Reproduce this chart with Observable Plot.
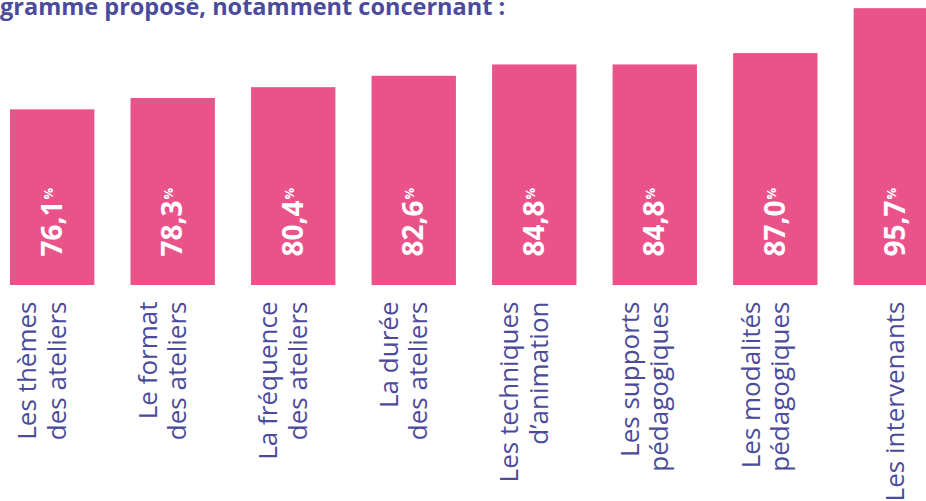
<!DOCTYPE html>
<html><head><meta charset="utf-8">
<script src="https://cdn.jsdelivr.net/npm/d3@7"></script>
<script src="https://cdn.jsdelivr.net/npm/@observablehq/plot@0.6"></script>
<style>
html,body{margin:0;padding:0;background:#fff;overflow:hidden;width:926px;height:501px;}
#wrap{position:relative;width:926px;height:501px;overflow:hidden;}
#title{position:absolute;left:0;top:-5px;font-family:"Open Sans";font-weight:700;font-size:23.5px;color:#4B4A9B;white-space:nowrap;line-height:1;z-index:1}
#chart{position:absolute;left:0;top:0;width:940px;}
#chart svg{max-width:none !important;}
</style></head><body>
<div id="wrap"><div id="title">gramme proposé, notamment concernant :</div><div id="chart"></div></div>
<script>
const categories = [
  "Les thèmes\ndes ateliers",
  "Le format\ndes ateliers",
  "La fréquence\ndes ateliers",
  "La durée\ndes ateliers",
  "Les techniques\nd’animation",
  "Les supports\npédagogiques",
  "Les modalités\npédagogiques",
  "Les intervenants"
];
const values = [76.1, 78.3, 80.4, 82.6, 84.8, 84.8, 87.0, 95.7];
const valueLabels = ["76,1%", "78,3%", "80,4%", "82,6%", "84,8%", "84,8%", "87,0%", "95,7%"];
const baseline = 42.08;

const data = categories.map((c, i) => ({category: c, value: values[i], label: valueLabels[i]}));
const purple = "#4B4A9B";
const pink = "#E9538A";

const plot = Plot.plot({
  width: 940,
  height: 501,
  marginLeft: 10,
  marginRight: 2,
  marginTop: 0,
  marginBottom: 0,
  x: {domain: categories, paddingInner: 0.3, paddingOuter: 0, round: false, axis: null},
  y: {domain: [baseline, 100], range: [285, 285 - (100 - baseline) * 5.163], axis: null},
  style: {fontFamily: "Open Sans", background: "transparent", overflow: "visible", maxWidth: "none"},
  marks: [
    Plot.barY(data, {x: "category", y1: baseline, y2: "value", fill: pink}),
    Plot.text(data, {x: "category", y: baseline, text: "label", rotate: -90, textAnchor: "start",
      dy: -29, fill: "white", fontSize: 28, fontWeight: 700, className: "vlab"}),
    Plot.text(data.filter(d => d.category.includes("\n")), {x: "category", y: baseline, text: "category",
      rotate: -90, textAnchor: "end", dy: 16, dx: -11, lineHeight: 1.13, fill: purple, fontSize: 26}),
    Plot.text(data.filter(d => !d.category.includes("\n")), {x: "category", y: baseline, text: "category",
      rotate: -90, textAnchor: "end", dy: 16, dx: -1, fill: purple, fontSize: 26})
  ]
});
plot.style.maxWidth = "none";

plot.querySelectorAll("g.vlab text").forEach(t => {
  const s = t.textContent;
  if (s.endsWith("%")) {
    t.textContent = s.slice(0, -1);
    const sp = document.createElementNS("http://www.w3.org/2000/svg", "tspan");
    sp.setAttribute("font-size", "13");
    sp.setAttribute("dy", "-9");
    sp.setAttribute("dx", "1");
    sp.textContent = "%";
    t.appendChild(sp);
  }
});

document.getElementById("chart").appendChild(plot);
</script>
</body></html>
